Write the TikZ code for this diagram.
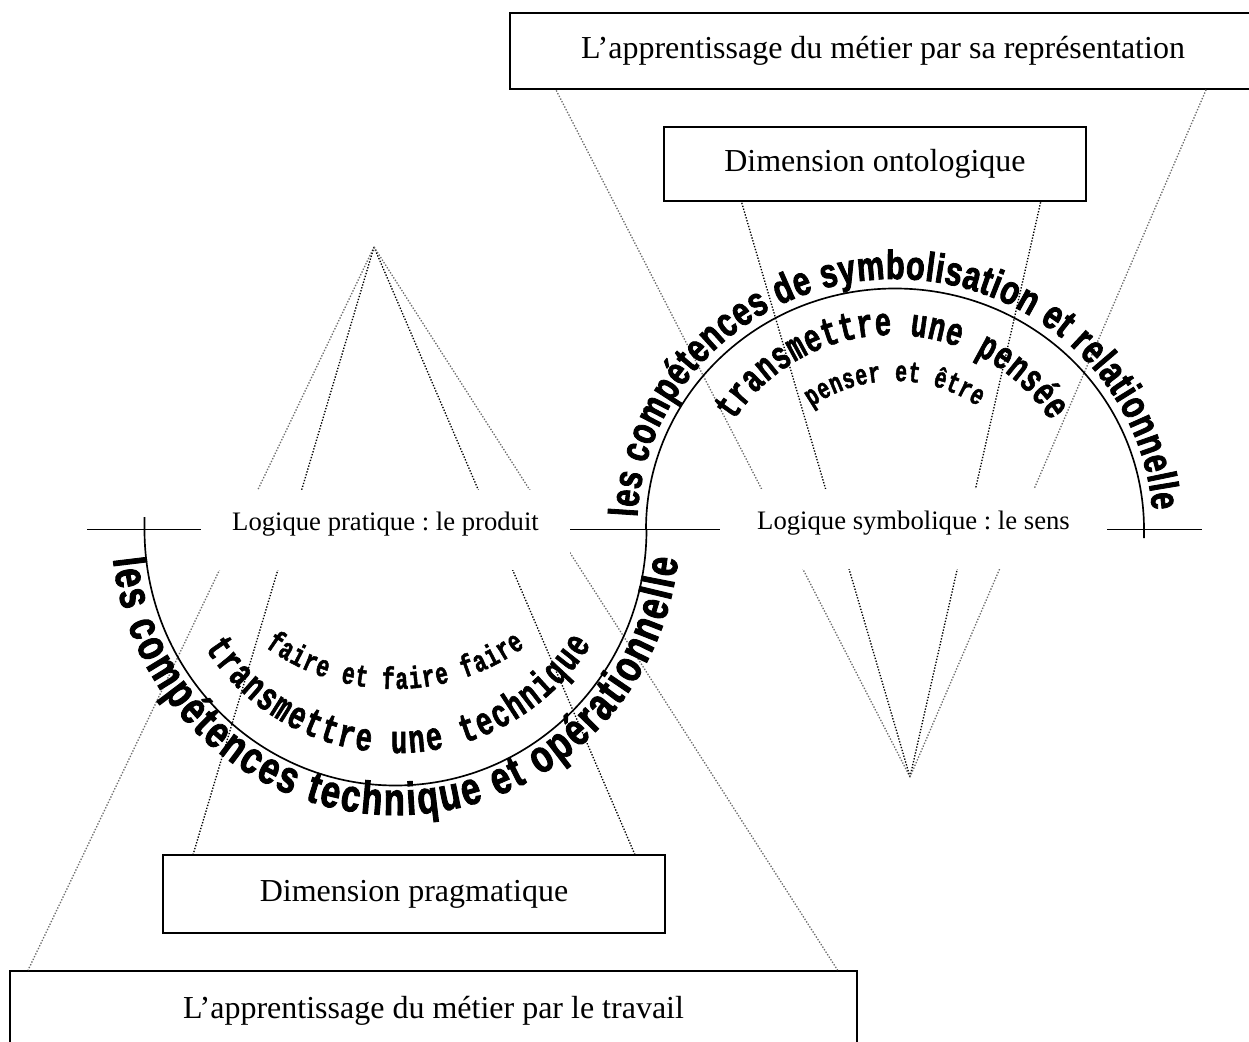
\documentclass[tikz,border=0pt]{standalone}
\usepackage{fontspec}
\setmainfont{Liberation Serif}
\newfontfamily\arcsans[FakeStretch=0.75,FakeBold=2]{Liberation Sans}
\newfontfamily\arcmono[FakeStretch=0.68,FakeBold=1.5]{Liberation Mono}
\usetikzlibrary{decorations.text,calc}
\frenchspacing
\begin{document}
\begin{tikzpicture}[x=0.6pt,y=0.6pt,
  boxnode/.style={draw,line width=1.1pt,inner sep=0pt,font=\fontsize{19.2}{23}\selectfont},
  openbox/.style={inner sep=0pt,font=\fontsize{19.2}{23}\selectfont},
  labelnode/.style={fill=white,inner sep=0pt,text height=24pt,text depth=24pt,anchor=base,font=\fontsize{16}{19}\selectfont},
  outerray/.style={gray!85!black,densely dotted,line width=0.8pt},
  innerray/.style={black,densely dotted,line width=0.8pt},
  arcline/.style={line width=1pt}
]
\useasboundingbox (0,-1042) rectangle (1249,0);
\clip (0,-1042) rectangle (1249,0);

% boxes
\node[openbox,minimum width=462pt,minimum height=45.6pt] (top) at (895,-51) {\hspace*{-14.4pt}L’apprentissage du métier par sa représentation};
\draw[line width=1.1pt] (top.north east) -- (top.north west) -- (top.south west) -- (top.south east);
\node[boxnode,minimum width=253.2pt,minimum height=44.4pt] (onto) at (875,-164) {Dimension ontologique};
\node[boxnode,minimum width=301.2pt,minimum height=46.8pt] (prag) at (414,-894) {Dimension pragmatique};
\node[boxnode,minimum width=508.2pt,minimum height=48pt] (work) at (433.5,-1011) {L’apprentissage du métier par le travail};

\coordinate (apexL) at (374,-247);
\coordinate (apexR) at (910,-777);

% rays, left
\draw[outerray] (apexL) -- ($(work.north west)!0.0224!(work.north east)$);
\draw[innerray] (apexL) -- ($(prag.north west)!0.0618!(prag.north east)$);
\draw[innerray] (apexL) -- ($(prag.north west)!0.938!(prag.north east)$);
\draw[outerray] (apexL) -- ($(work.north west)!0.976!(work.north east)$);
% rays, right
\draw[outerray] (apexR) -- ($(top.south west)!0.0597!(top.south east)$);
\draw[innerray] (apexR) -- ($(onto.south west)!0.185!(onto.south east)$);
\draw[innerray] (apexR) -- ($(onto.south west)!0.891!(onto.south east)$);
\draw[outerray] (apexR) -- ($(top.south west)!0.9039!(top.south east)$);

% axis and arcs
\draw[arcline] (87,-529.5) -- (1202,-529.5);
\draw[arcline] (144.5,-517) -- (144.5,-529.5) arc[start angle=180,end angle=360,x radius=251,y radius=256];
\draw[arcline] (646,-529.5) arc[start angle=180,end angle=0,x radius=249,y radius=241] -- (1144,-538);

% labels
\node[labelnode,minimum width=221.4pt] (lp) at (385.5,-530) {Logique pratique : le produit};
\node[labelnode,minimum width=232.2pt] (ls) at (913.5,-529) {Logique symbolique : le sens};

% curved texts, lower arc
\path[decorate,decoration={text along path,text align={fit to path},
  text={|\arcsans\bfseries\fontsize{27.5}{27.5}\selectfont|les compétences technique et opérationnelle}}]
  ({395.5+284*cos(186)},{-529+286*sin(186)}) arc[start angle=186,end angle=354,x radius=284,y radius=286];
\path[decorate,decoration={text along path,text align={fit to path},
  text={|\arcmono\bfseries\fontsize{24}{24}\selectfont|transmettre une technique}}]
  ({397+228*cos(212.6)},{-525+228*sin(212.6)}) arc[start angle=212.6,end angle=328.4,radius=228];
\path[decorate,decoration={text along path,text align={fit to path},
  text={|\arcmono\bfseries\fontsize{18.5}{18.5}\selectfont|faire et faire faire}}]
  ({395+221*cos(234)},{-468+221*sin(234)}) arc[start angle=234,end angle=306,radius=221];

% curved texts, upper arc
\path[decorate,decoration={text along path,text align={fit to path},
  text={|\arcsans\bfseries\fontsize{24.5}{24.5}\selectfont|les compétences de symbolisation et relationnelle}}]
  ({895+258*cos(177.3)},{-529+250*sin(177.3)}) arc[start angle=177.3,end angle=4.3,x radius=258,y radius=250];
\path[decorate,decoration={text along path,text align={fit to path},
  text={|\arcmono\bfseries\fontsize{24}{24}\selectfont|transmettre une pensée}}]
  ({892+189*cos(147)},{-524+189*sin(147)}) arc[start angle=147,end angle=33,radius=189];
\path[decorate,decoration={text along path,text align={fit to path},
  text={|\arcmono\bfseries\fontsize{17.5}{17.5}\selectfont|penser et être}}]
  ({895+148*cos(124.4)},{-529+148*sin(124.4)}) arc[start angle=124.4,end angle=56,radius=148];
\end{tikzpicture}
\end{document}
